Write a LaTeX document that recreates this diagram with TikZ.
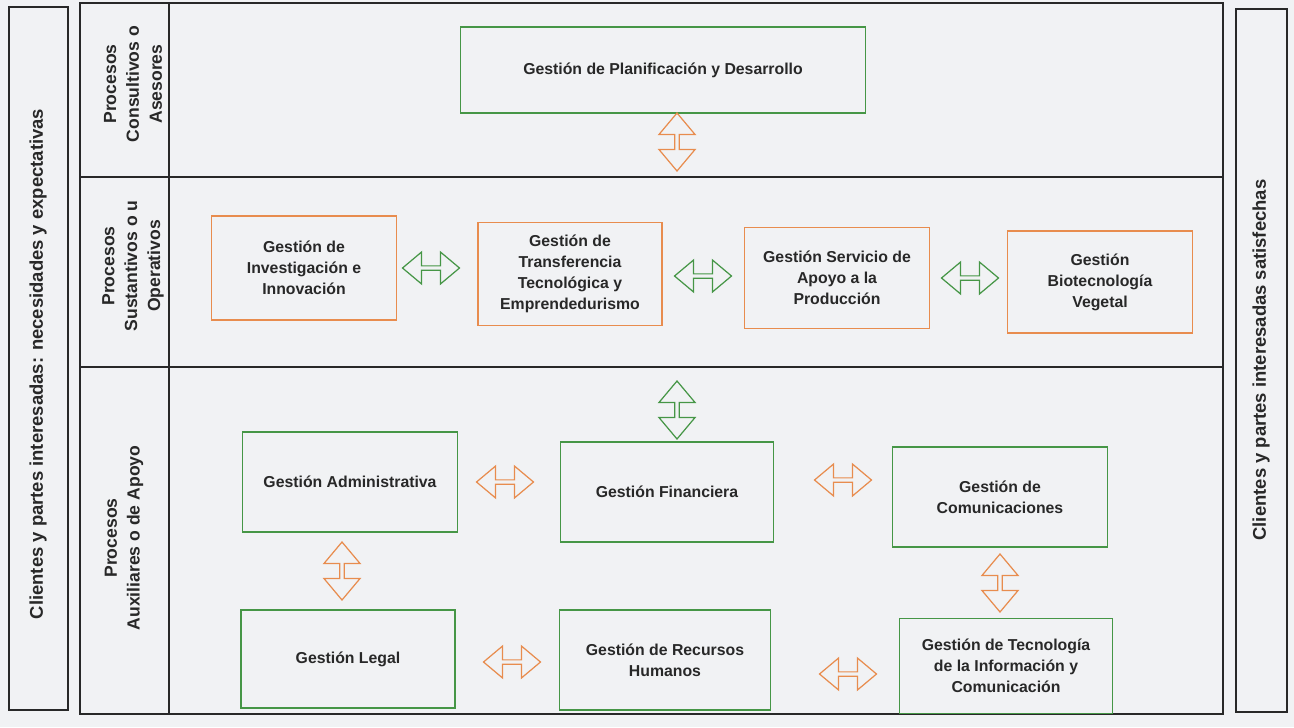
\documentclass[tikz,border=0pt]{standalone}
\usepackage{fontspec}
\setmainfont{Liberation Sans}
\usepackage{tikz}
\usetikzlibrary{shapes}
\usetikzlibrary{shapes.arrows}
\usetikzlibrary{positioning}
\definecolor{bgcol}{RGB}{241,242,244}
\definecolor{boxgreen}{RGB}{70,150,70}
\definecolor{boxorange}{RGB}{232,140,78}
\definecolor{inkcol}{RGB}{40,40,40}
\tikzset{
    boxg/.style = {rectangle, draw=boxgreen, line width=0.8pt, align=center, text=inkcol, font=\fontsize{9}{12}\selectfont\bfseries},
    boxo/.style = {rectangle, draw=boxorange, line width=0.8pt, align=center, text=inkcol, font=\fontsize{9}{12}\selectfont\bfseries},
    arrowh/.style = {double arrow, line width=0.7pt, inner sep=0pt, minimum height=1.14cm, minimum width=0.64cm, double arrow head extend=0.08cm, double arrow tip angle=80},
    arrowv/.style = {double arrow, line width=0.7pt, inner sep=0pt, minimum height=1.16cm, minimum width=0.72cm, double arrow head extend=0.09cm, double arrow tip angle=80, shape border rotate=90},
    arrowhg/.style = {arrowh, draw=boxgreen},
    arrowho/.style = {arrowh, draw=boxorange},
    arrowvg/.style = {arrowv, draw=boxgreen},
    arrowvo/.style = {arrowv, draw=boxorange},
    frameline/.style = {draw=inkcol, line width=1.1pt},
    lanelabel/.style = {rotate=90, align=center, text=inkcol, font=\fontsize{10}{13}\selectfont\bfseries},
    sidelabel/.style = {rotate=90, align=center, text=inkcol, font=\fontsize{10.5}{13}\selectfont\bfseries}
}
\begin{document}
\begin{tikzpicture}[x=0.02cm, y=-0.02cm]
\fill[bgcol] (0,0) rectangle (1294,727);

% side boxes
\draw[frameline] (9,7) rectangle (68,710);
\draw[frameline] (1236,9) rectangle (1287,712);
\node[sidelabel] at (38,364) (clin) {Clientes y partes interesadas: necesidades y expectativas};
\node[sidelabel] at (1261,360) (clsat) {Clientes y partes interesadas satisfechas};

% main frame and lanes
\draw[frameline] (80,3) rectangle (1223,714);
\draw[frameline] (169,3) -- (169,714);
\draw[frameline] (80,177) -- (1223,177);
\draw[frameline] (80,367) -- (1223,367);
\node[lanelabel] at (133,84) (lcons) {Procesos\\Consultivos o\\Asesores};
\node[lanelabel] at (133,266) (lsust) {Procesos\\Sustantivos o u\\Operativos};
\node[lanelabel] at (124,538) (laux) {Procesos\\Auxiliares o de Apoyo};

% processes
\node[boxg, minimum width=8.1cm, minimum height=1.72cm] at (663,70) (plan) {Gestión de Planificación y Desarrollo};

\node[boxo, minimum width=3.7cm, minimum height=2.08cm] at (304,268) (inv) {Gestión de\\Investigación e\\Innovación};
\node[boxo, minimum width=3.68cm, minimum height=2.06cm] at (570,274) (tra) {Gestión de\\Transferencia\\Tecnológica y\\Emprendedurismo};
\node[boxo, minimum width=3.7cm, minimum height=2.02cm] at (837,278) (ser) {Gestión Servicio de\\Apoyo a la\\Producción};
\node[boxo, minimum width=3.7cm, minimum height=2.04cm] at (1100,282) (bio) {Gestión\\Biotecnología\\Vegetal};

\node[boxg, minimum width=4.3cm, minimum height=2.0cm] at (350,482) (adm) {Gestión Administrativa};
\node[boxg, minimum width=4.26cm, minimum height=2.0cm] at (667,492) (fin) {Gestión Financiera};
\node[boxg, minimum width=4.3cm, minimum height=2.0cm] at (1000,497) (com) {Gestión de\\Comunicaciones};
\node[boxg, minimum width=4.28cm, minimum height=1.96cm] at (348,659) (leg) {Gestión Legal};
\node[boxg, minimum width=4.22cm, minimum height=2.0cm] at (665,660) (rrhh) {Gestión de Recursos\\Humanos};
\node[boxg, minimum width=4.26cm, minimum height=1.9cm] at (1006,666) (tic) {Gestión de Tecnología\\de la Información y\\Comunicación};

% links
\node[arrowvo] at (677,142) (aplan) {};
\node[arrowhg] at (431,268) (ainvtra) {};
\node[arrowhg] at (703,276) (atraser) {};
\node[arrowhg] at (970,278) (aserbio) {};
\node[arrowvg] at (677,410) (afin) {};
\node[arrowho] at (505,482) (aadmfin) {};
\node[arrowho] at (843,480) (afincom) {};
\node[arrowvo] at (342,571) (aadmleg) {};
\node[arrowvo] at (1000,583) (acomtic) {};
\node[arrowho] at (512,662) (alegrrhh) {};
\node[arrowho] at (848,674) (arrhhtic) {};

\end{tikzpicture}
\end{document}
